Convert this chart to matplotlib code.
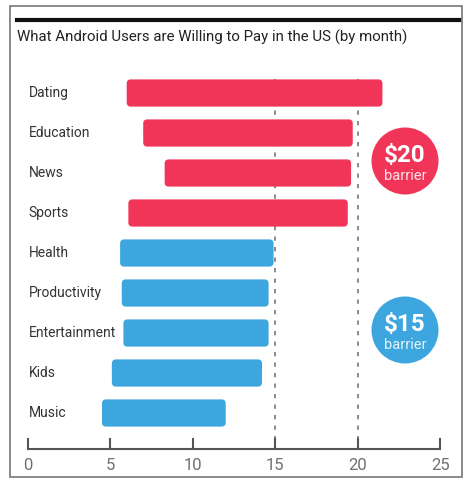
import matplotlib
matplotlib.use("Agg")
import matplotlib.pyplot as plt
from matplotlib.patches import FancyBboxPatch, Ellipse, Rectangle
from matplotlib.lines import Line2D

plt.rcParams['font.family'] = ['Roboto', 'DejaVu Sans']

categories = ["Dating", "Education", "News", "Sports", "Health",
              "Productivity", "Entertainment", "Kids", "Music"]
low = [6.0, 7.0, 8.3, 6.1, 5.6, 5.7, 5.8, 5.1, 4.5]
high = [21.5, 19.7, 19.6, 19.4, 14.9, 14.6, 14.6, 14.2, 12.0]
groups = ["20", "20", "20", "20", "15", "15", "15", "15", "15"]
xticks = [0, 5, 10, 15, 20, 25]
barriers = [15, 20]
title = "What Android Users are Willing to Pay in the US (by month)"

RED = "#F03558"
BLUE = "#3DA6DE"
colors = {"20": RED, "15": BLUE}

W, H = 466, 479
fig = plt.figure(figsize=(W / 100, H / 100), dpi=100)
ax = fig.add_axes([0, 0, 1, 1])
# pixel mapping: x=0 at 27.7px, 16.5px per unit; row 0 at 93px, 40px per row
x0, xs = 27.7, 16.5
y0, ys = 93.0, 40.0
ax.set_xlim(-x0 / xs, (W - x0) / xs)
ax.set_ylim((H - y0) / ys, -y0 / ys)
ax.axis("off")

ypos = list(range(len(categories)))
widths = [h - l for l, h in zip(low, high)]
bars = ax.barh(ypos, widths, left=low, height=0.68)
aspect = (1 / ys) / (1 / xs)
for b, g in zip(bars, groups):
    x, y = b.get_x(), b.get_y()
    w, h = b.get_width(), b.get_height()
    p = FancyBboxPatch((x, y), w, h,
                       boxstyle="round,pad=0,rounding_size=0.25",
                       mutation_aspect=aspect, fc=colors[g], ec="none", zorder=3)
    ax.add_patch(p)
    b.remove()

for i, c in enumerate(categories):
    ax.text((28.5 - x0) / xs, i, c, fontsize=10, color="#333333",
            va="center", ha="left", zorder=4)

# barrier dashed lines
top_y = -0.35
axis_y = (449 - y0) / ys
for bv in barriers:
    ax.plot([bv, bv], [top_y, axis_y], color="#8a8a8a", lw=1.4,
            ls=(0, (2.2, 3.2)), zorder=1)

# bottom axis
ax.plot([xticks[0], xticks[-1]], [axis_y, axis_y], color="#555555", lw=1.5,
        zorder=2, solid_capstyle="butt")
tick_len = 10 / ys
for t in xticks:
    ax.plot([t, t], [axis_y, axis_y - tick_len], color="#555555", lw=1.5, zorder=2)
    ax.text(t, (465 - y0) / ys, str(t), fontsize=12, color="#707070",
            ha="center", va="center")

# circles
for val, cy_px, col in [("$20", 161, RED), ("$15", 330, BLUE)]:
    cx = (405 - x0) / xs
    cy = (cy_px - y0) / ys
    e = Ellipse((cx, cy), 67 / xs, 67 / ys, fc=col, ec="none", zorder=3)
    ax.add_patch(e)
    ax.text(cx, cy - 6 / ys, val, fontsize=17.5, fontweight="bold", color="white",
            ha="center", va="center", zorder=4)
    ax.text(cx, cy + 15 / ys, "barrier", fontsize=10.5, color="#fbe3e8" if col == RED else "#e3f2fb",
            ha="center", va="center", zorder=4)

# title and top rule
fig.add_artist(Line2D([17 / W, 459 / W], [1 - 20 / H, 1 - 20 / H], color="#111111", lw=3))
fig.text(17 / W, 1 - 37 / H, title, fontsize=10.8, color="#222222", ha="left", va="center")

# outer frame
fig.add_artist(Rectangle((9.5 / W, 1 - 477 / H), (462 - 9.5) / W, (477 - 6) / H,
                         transform=fig.transFigure, fill=False, ec="#777777", lw=1.2))

fig.savefig("out.png", dpi=100)
